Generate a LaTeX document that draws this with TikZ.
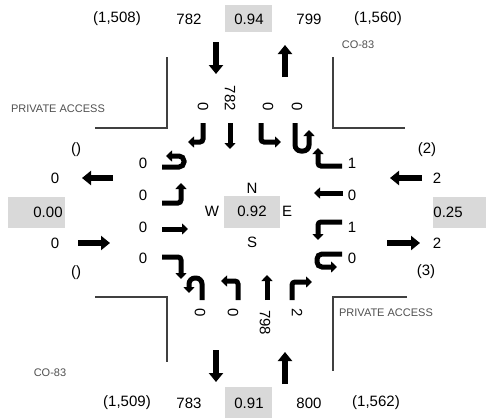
\documentclass[tikz,border=0pt]{standalone}
\usepackage{fontspec}
\setmainfont{Liberation Sans}
\usepackage{tikz}
\usetikzlibrary{arrows.meta}
\definecolor{boxgray}{HTML}{D9D9D9}
\definecolor{notegray}{HTML}{505050}
\tikzset{%
  vol/.style={inner sep=0pt,font=\fontsize{15}{18}\selectfont},
  note/.style={inner sep=0pt,text=notegray,font=\fontsize{11}{13}\selectfont},
  lane/.style={line width=5pt,rounded corners=3pt,-{Triangle[length=6pt,width=11pt]}},
  flow/.style={line width=5.5pt,-{Triangle[length=9pt,width=14pt]}}%
}

\begin{document}
\begin{tikzpicture}[
    x=1pt, y=-1pt,
    curb/.style={line width=1.5pt, draw=black!75},
    nlab/.style={vol, rotate=-90, anchor=east},
    slab/.style={vol, rotate=-90, anchor=west}
]
\useasboundingbox (0,0) rectangle (486,418);

% Shaded boxes
\fill[boxgray] (225,5) rectangle (272,32);
\fill[boxgray] (225,387) rectangle (272,418);
\fill[boxgray] (8,197) rectangle (65,228);
\fill[boxgray] (433,197) rectangle (486,228);
\fill[boxgray] (224,196) rectangle (280,228);

% Curb lines
\draw[curb] (167,57) -- (167,128) -- (95,128);
\draw[curb] (333,57) -- (333,128) -- (405,128);
\draw[curb] (95,297) -- (167,297) -- (167,362);
\draw[curb] (407,297) -- (333,297) -- (333,371);

% Nodes
\node[vol] (topq) at (117,19) {(1,508)};
\node[vol] (topin) at (189,19) {782};
\node[vol] (topphf) at (249,19) {0.94};
\node[vol] (topout) at (309,19) {799};
\node[vol] (topq2) at (378,19) {(1,560)};

\node[vol] (botq) at (127,403) {(1,509)};
\node[vol] (botout) at (189,403) {783};
\node[vol] (botphf) at (249,403) {0.91};
\node[vol] (botin) at (309,403) {800};
\node[vol] (botq2) at (376,403) {(1,562)};

\node[vol] (wq) at (76,150) {()};
\node[vol] (wout) at (55,178) {0};
\node[vol] (wphf) at (48,212) {0.00};
\node[vol] (win) at (55,243) {0};
\node[vol] (wq2) at (76,273) {()};

\node[vol] (eq) at (427,150) {(2)};
\node[vol] (ein) at (437,178) {2};
\node[vol] (ephf) at (448,212) {0.25};
\node[vol] (eout) at (437,243) {2};
\node[vol] (eq2) at (426,272) {(3)};

\node[vol] (north) at (252,188) {N};
\node[vol] (west) at (212,211) {W};
\node[vol] (phf) at (252,211) {0.92};
\node[vol] (east) at (287,211) {E};
\node[vol] (south) at (252,242) {S};

\node[note] (hwy) at (358,45) {CO-83};
\node[note] (hwy2) at (50,373) {CO-83};
\node[note] (drive) at (58,109) {PRIVATE ACCESS};
\node[note] (drive2) at (386,313) {PRIVATE ACCESS};

% Turning volumes
\node[nlab] (nr) at (203,111) {0};
\node[nlab] (nt) at (230,111) {782};
\node[nlab] (nl) at (268,111) {0};
\node[nlab] (nu) at (297,111) {0};

\node[slab] (su) at (200,308) {0};
\node[slab] (sl) at (233,308) {0};
\node[slab] (st) at (265,310) {798};
\node[slab] (sr) at (297,308) {2};

\node[vol] (wu) at (143,163) {0};
\node[vol] (wl) at (143,195) {0};
\node[vol] (wt) at (143,227) {0};
\node[vol] (wr) at (143,258) {0};

\node[vol] (er) at (352,163) {1};
\node[vol] (et) at (352,195) {0};
\node[vol] (el) at (352,227) {1};
\node[vol] (eu) at (352,258) {0};

% Approach arrows
\draw[flow] (216,42) -- (216,74);
\draw[flow] (285,77) -- (285,45);
\draw[flow] (216,350) -- (216,382);
\draw[flow] (285,384) -- (285,352);
\draw[flow] (113,178) -- (82,178);
\draw[flow] (78,243) -- (110,243);
\draw[flow] (422,178) -- (390,178);
\draw[flow] (387,243) -- (420,243);

% Lane arrows
\draw[lane] (203,123) -- (203,142) -- (188,142);
\draw[lane] (230,123) -- (230,136) -- (230,149);
\draw[lane] (261,123) -- (261,142) -- (281,142);
\draw[lane, rounded corners=6pt] (295,123) -- (295,151) -- (309,151) -- (309,130);

\draw[lane, rounded corners=6pt] (202,300) -- (202,278) -- (189,278) -- (189,293);
\draw[lane] (238,300) -- (238,281) -- (221,281);
\draw[lane] (267,300) -- (267,288) -- (267,275);
\draw[lane] (292,300) -- (292,282) -- (312,282);

\draw[lane, rounded corners=5pt] (162,167) -- (184,167) -- (184,156) -- (166,156);
\draw[lane] (162,203) -- (181,203) -- (181,183);
\draw[lane] (162,229) -- (175,229) -- (188,229);
\draw[lane] (162,257) -- (181,257) -- (181,279);

\draw[lane] (342,166) -- (318,166) -- (318,148);
\draw[lane] (343,193) -- (329,193) -- (314,193);
\draw[lane] (342,222) -- (318,222) -- (318,240);
\draw[lane, rounded corners=5pt] (342,254) -- (317,254) -- (317,267) -- (337,267);

\end{tikzpicture}
\end{document}
